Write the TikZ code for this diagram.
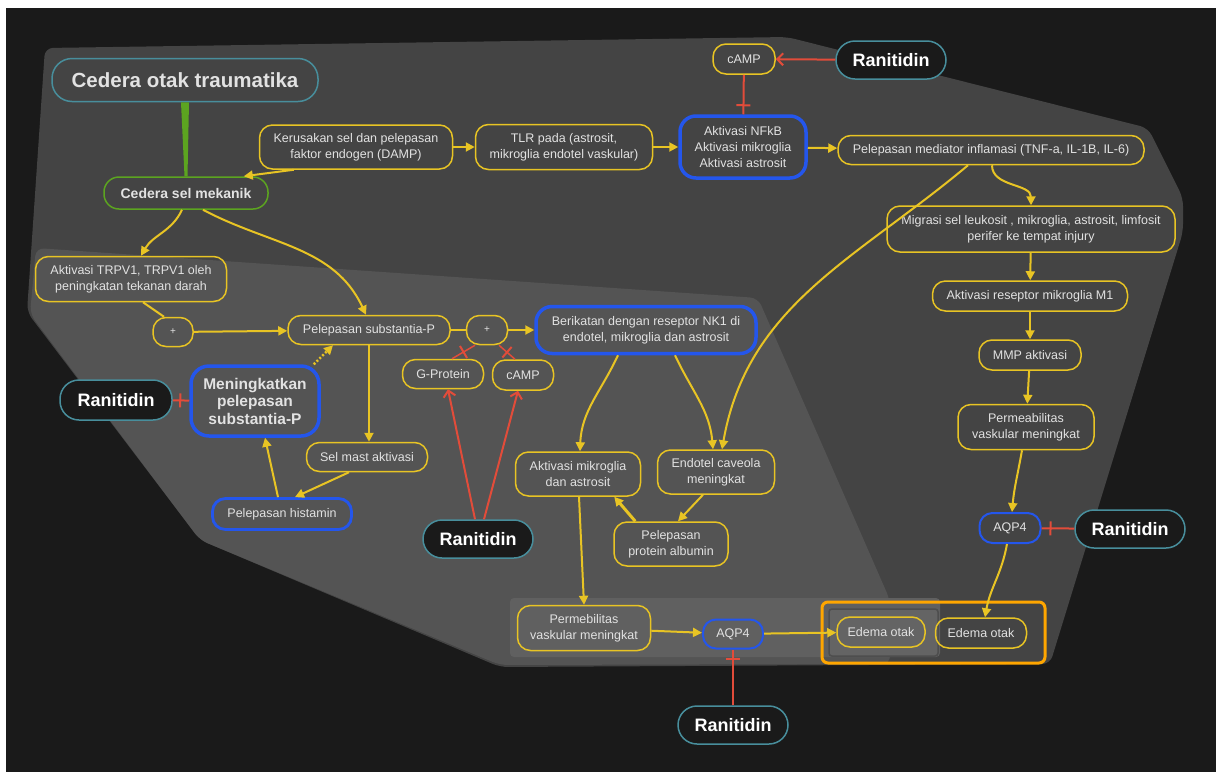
\documentclass[tikz,border=0pt]{standalone}
\usepackage{fontspec}
\setmainfont{Liberation Sans}
\usetikzlibrary{arrows.meta,decorations.markings}
\definecolor{pagebg}{RGB}{26,26,26}
\definecolor{zoneout}{RGB}{68,68,68}
\definecolor{zonein}{RGB}{84,84,84}
\definecolor{zonestrip}{RGB}{96,96,96}
\definecolor{edemacell}{RGB}{100,100,100}
\definecolor{edemarim}{RGB}{78,78,78}
\definecolor{flowyel}{RGB}{232,196,36}
\definecolor{keyblue}{RGB}{36,86,236}
\definecolor{drugteal}{RGB}{72,142,156}
\definecolor{injgreen}{RGB}{92,164,32}
\definecolor{inhred}{RGB}{226,76,58}
\definecolor{edemaorange}{RGB}{255,166,0}
\definecolor{labelgray}{RGB}{226,226,226}

\begin{document}
\begin{tikzpicture}[x=1pt, y=-1pt,
    pill/.style={draw=flowyel, line width=1.5pt, rounded corners=13pt, align=center,
        text=labelgray, font=\fontsize{12.5}{16}\selectfont, inner sep=0pt},
    keypill/.style={pill, draw=keyblue, line width=3.5pt, rounded corners=16pt},
    drugpill/.style={draw=drugteal, line width=1.5pt, fill=pagebg, rounded corners=19pt,
        text=white, font=\bfseries\fontsize{18}{20}\selectfont, minimum width=110pt, minimum height=38pt},
    flow/.style={draw=flowyel, line width=2pt, -{Triangle[length=9pt,width=9pt]}},
    drugarrow/.style={draw=inhred, line width=2pt, -{Straight Barb[length=6pt,width=12pt]}},
    inhib/.style={draw=inhred, line width=2pt, postaction={decorate, decoration={markings,
        mark=at position #1 with {\draw[inhred, line width=2pt] (0pt,-7pt) -- (0pt,7pt);}}}},
    inhib/.default=-9pt]

    % page and zones
    \useasboundingbox (0,0) rectangle (1224,772);
    \fill[white] (0,0) rectangle (1224,772);
    \fill[pagebg] (6,8) rectangle (1216,772);
    \fill[zoneout, rounded corners=8pt] (45,48) -- (787,37) -- (1148,128) -- (1183,198) -- (1183,232)
        -- (1050,664) -- (500,667) -- (200,540) -- (27,312) -- cycle;
    \fill[zonein, rounded corners=8pt] (36,248) -- (758,298) -- (890,600) -- (890,664)
        -- (500,665) -- (200,540) -- (30,314) -- cycle;
    \fill[zonestrip, rounded corners=4pt] (510,598) rectangle (940,657);

    % edema frame
    \filldraw[fill=edemacell, draw=edemarim, line width=1.5pt, rounded corners=3pt] (829,609) rectangle (938,656);
    \draw[edemaorange, line width=3pt, rounded corners=6pt] (822,602) rectangle (1045,663);

    % NODES
    \node[pill, draw=drugteal, font=\bfseries\fontsize{20.5}{24}\selectfont, rounded corners=20pt,
        minimum width=266pt, minimum height=43pt] (tbi) at (185,80) {Cedera otak traumatika};
    \node[pill, draw=injgreen, font=\bfseries\fontsize{14}{16}\selectfont, rounded corners=15pt,
        minimum width=164pt, minimum height=32pt] (mech) at (186,193) {Cedera sel mekanik};

    \node[pill, minimum width=193pt, minimum height=44pt] (damp) at (356,147) {Kerusakan sel dan pelepasan\\faktor endogen (DAMP)};
    \node[pill, minimum width=177pt, minimum height=45pt] (tlr) at (564,147) {TLR pada (astrosit,\\mikroglia endotel vaskular)};
    \node[keypill, minimum width=126pt, minimum height=62pt] (nfkb) at (743,147) {Aktivasi NFkB\\Aktivasi mikroglia\\Aktivasi astrosit};
    \node[pill, minimum width=62pt, minimum height=30pt] (camptop) at (744,59) {cAMP};
    \node[drugpill] (rantop) at (891,60) {Ranitidin};

    \node[pill, minimum width=306pt, minimum height=29pt] (medi) at (991,150) {Pelepasan mediator inflamasi (TNF-a, IL-1B, IL-6)};
    \node[pill, minimum width=288pt, minimum height=46pt] (migr) at (1031,229) {Migrasi sel leukosit , mikroglia, astrosit, limfosit\\perifer ke tempat injury};
    \node[pill, minimum width=195pt, minimum height=30pt] (mone) at (1030,296) {Aktivasi reseptor mikroglia M1};
    \node[pill, minimum width=102pt, minimum height=30pt] (mmp) at (1030,355) {MMP aktivasi};
    \node[pill, minimum width=136pt, minimum height=45pt] (permr) at (1026,427) {Permeabilitas\\vaskular meningkat};
    \node[pill, draw=keyblue, line width=2pt, minimum width=61pt, minimum height=30pt] (aqpr) at (1010,528) {AQP4};
    \node[drugpill] (ranr) at (1130,529) {Ranitidin};

    \node[pill, minimum width=91pt, minimum height=30pt] (edr) at (981,633) {Edema otak};
    \node[pill, minimum width=88pt, minimum height=30pt] (edl) at (881,632) {Edema otak};
    \node[pill, draw=keyblue, line width=2pt, minimum width=60pt, minimum height=29pt] (aqpb) at (733,634) {AQP4};
    \node[drugpill] (ranb) at (733,725) {Ranitidin};
    \node[pill, minimum width=133pt, minimum height=45pt] (permb) at (584,628) {Permebilitas\\vaskular meningkat};

    \node[pill, minimum width=125pt, minimum height=44pt] (mikro) at (578,474) {Aktivasi mikroglia\\dan astrosit};
    \node[pill, minimum width=117pt, minimum height=44pt] (cav) at (716,472) {Endotel caveola\\meningkat};
    \node[pill, minimum width=114pt, minimum height=44pt] (albu) at (671,544) {Pelepasan\\protein albumin};
    \node[keypill, minimum width=220pt, minimum height=47pt] (nkone) at (646,330) {Berikatan dengan reseptor NK1 di\\endotel, mikroglia dan astrosit};

    \node[pill, font=\fontsize{10}{12}\selectfont, minimum width=41pt, minimum height=29pt] (plusr) at (487,330) {+};
    \node[pill, minimum width=81pt, minimum height=29pt] (gprot) at (443,374) {G-Protein};
    \node[pill, minimum width=61pt, minimum height=30pt] (campmid) at (523,375) {cAMP};
    \node[drugpill] (ranmid) at (478,539) {Ranitidin};

    \node[pill, minimum width=162pt, minimum height=29pt] (subp) at (369,330) {Pelepasan substantia-P};
    \node[pill, font=\fontsize{10}{12}\selectfont, minimum width=40pt, minimum height=29pt] (plusl) at (173,332) {+};
    \node[pill, minimum width=191pt, minimum height=45pt] (trpv) at (131,279) {Aktivasi TRPV1, TRPV1 oleh\\peningkatan tekanan darah};
    \node[keypill, font=\bfseries\fontsize{15.5}{17.5}\selectfont, rounded corners=18pt,
        minimum width=128pt, minimum height=70pt] (incsp) at (255,401) {Meningkatkan\\pelepasan\\substantia-P};
    \node[drugpill, minimum width=112pt, minimum height=40pt] (ranl) at (116,400) {Ranitidin};
    \node[pill, minimum width=121pt, minimum height=29pt] (mast) at (367,457) {Sel mast aktivasi};
    \node[pill, draw=keyblue, line width=2.8pt, minimum width=139pt, minimum height=31pt] (hist) at (282,514) {Pelepasan histamin};

    % injury branch
    \fill[injgreen] ([xshift=-4pt]tbi.south) -- ([xshift=4pt]tbi.south) -- ([xshift=1.5pt]mech.north) -- ([xshift=-1.5pt]mech.north) -- cycle;
    \draw[flow] ([xshift=35pt]damp.south west) -- ([xshift=-25pt]mech.north east);
    \draw[flow] ([xshift=-4pt]mech.south) to[out=-115,in=60] ([xshift=10pt]trpv.north);
    \draw[flow] ([xshift=17pt]mech.south) to[out=-28,in=115] ([xshift=-3pt]subp.north);

    % top chain
    \draw[flow] (damp) -- (tlr);
    \draw[flow] (tlr) -- (nfkb);
    \draw[flow] (nfkb) -- (medi);
    \draw[drugarrow] (rantop) -- (camptop);
    \draw[inhib] (camptop) -- (nfkb);

    % right chain
    \draw[flow] ([xshift=1pt]medi.south) to[out=-90,in=90] (migr.north);
    \draw[flow] ([xshift=-23pt]medi.south) to[out=-140,in=80] ([xshift=6pt]cav.north);
    \draw[flow] (migr) -- (mone);
    \draw[flow] (mone) -- (mmp);
    \draw[flow] (mmp) -- (permr);
    \draw[flow] ([xshift=-4pt]permr.south) to[out=-100,in=85] ([xshift=2pt]aqpr.north);
    \draw[inhib] (ranr) -- (aqpr);
    \draw[flow] ([xshift=-3pt]aqpr.south) to[out=-100,in=80] ([xshift=4pt]edr.north);

    % substantia-P branch
    \draw[draw=flowyel, line width=2pt] ([xshift=12pt]trpv.south) -- ([xshift=-9pt]plusl.north);
    \draw[flow] (plusl) -- (subp);
    \draw[draw=flowyel, line width=2pt] (subp) -- (plusr);
    \draw[flow] (plusr) -- (nkone);
    \draw[inhib] (ranl) -- (incsp);
    \draw[flow, dotted, line width=2.5pt] ([xshift=-7pt]incsp.north east) -- ([xshift=-36pt]subp.south);
    \draw[flow] (subp.south) -- (subp.south |- mast.north);
    \draw[flow] ([xshift=-18pt]mast.south) -- ([xshift=13pt]hist.north);
    \draw[flow] ([xshift=-4pt]hist.north) -- ([xshift=10pt]incsp.south);

    % receptor block
    \draw[inhib=0.5, line width=1.5pt] ([xshift=9pt]gprot.north) -- ([xshift=-12pt]plusr.south);
    \draw[inhib=0.5, line width=1.5pt] ([xshift=-8pt]campmid.north) -- ([xshift=12pt]plusr.south);
    \draw[drugarrow] ([xshift=-3pt]ranmid.north) -- ([xshift=5pt]gprot.south);
    \draw[drugarrow] ([xshift=6pt]ranmid.north) -- ([xshift=-5pt]campmid.south);

    % NK1 outcomes
    \draw[flow] ([xshift=-28pt]nkone.south) to[out=-115,in=88] ([xshift=2pt]mikro.north);
    \draw[flow] ([xshift=29pt]nkone.south) to[out=-65,in=95] ([xshift=-3pt]cav.north);
    \draw[flow] ([xshift=-13pt]cav.south) -- ([xshift=7pt]albu.north);
    \draw[flow, line width=3pt] ([xshift=22pt]albu.north west) -- ([xshift=-27pt]mikro.south east);
    \draw[flow] ([xshift=1pt]mikro.south) -- (permb.north);
    \draw[flow] (permb) -- (aqpb);
    \draw[flow] (aqpb) -- (edl);
    \draw[inhib] (ranb) -- (aqpb);

\end{tikzpicture}
\end{document}
